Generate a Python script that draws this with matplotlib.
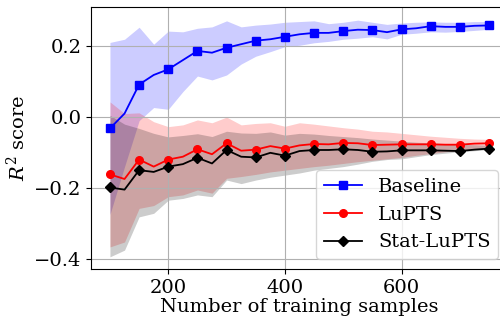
import matplotlib
matplotlib.use("Agg")
import matplotlib.pyplot as plt

plt.rcParams['font.family'] = 'DejaVu Serif'
plt.rcParams['mathtext.fontset'] = 'dejavuserif'
plt.rcParams['font.size'] = 14

# training set sizes
n_samples = [100, 125, 150, 175, 200, 225, 250, 275, 300, 325, 350, 375, 400, 425,
             450, 475, 500, 525, 550, 575, 600, 625, 650, 675, 700, 725, 750]

# Baseline: mean R^2 and band
base_mean = [-0.032, 0.010, 0.092, 0.119, 0.135, 0.161, 0.187, 0.182, 0.196, 0.206,
             0.216, 0.220, 0.227, 0.234, 0.238, 0.238, 0.243, 0.247, 0.246, 0.240,
             0.248, 0.251, 0.257, 0.255, 0.255, 0.258, 0.259]
base_hi = [0.211, 0.220, 0.254, 0.206, 0.243, 0.241, 0.251, 0.255, 0.272, 0.255,
           0.260, 0.263, 0.268, 0.270, 0.272, 0.264, 0.268, 0.274, 0.268, 0.262,
           0.266, 0.268, 0.269, 0.268, 0.268, 0.270, 0.270]
base_lo = [-0.275, -0.140, -0.010, 0.027, 0.022, 0.072, 0.116, 0.105, 0.119, 0.150,
           0.172, 0.185, 0.199, 0.203, 0.210, 0.214, 0.220, 0.223, 0.227, 0.221,
           0.234, 0.237, 0.241, 0.240, 0.242, 0.245, 0.248]

# LuPTS
lupts_mean = [-0.162, -0.175, -0.120, -0.140, -0.120, -0.112, -0.091, -0.105, -0.074, -0.095,
              -0.092, -0.082, -0.089, -0.080, -0.076, -0.077, -0.073, -0.074, -0.079, -0.078,
              -0.077, -0.077, -0.077, -0.078, -0.078, -0.075, -0.074]
lupts_hi = [0.043, 0.010, 0.012, -0.013, -0.027, -0.022, -0.008, -0.016, 0.000, -0.022,
            -0.018, -0.016, -0.026, -0.016, -0.020, -0.025, -0.030, -0.034, -0.040, -0.042,
            -0.046, -0.050, -0.054, -0.057, -0.060, -0.062, -0.063]
lupts_lo = [-0.367, -0.353, -0.258, -0.250, -0.225, -0.220, -0.206, -0.215, -0.173, -0.168,
            -0.162, -0.155, -0.150, -0.145, -0.140, -0.136, -0.131, -0.126, -0.122, -0.118,
            -0.114, -0.108, -0.103, -0.098, -0.094, -0.090, -0.088]

# Stat-LuPTS
stat_mean = [-0.199, -0.205, -0.150, -0.155, -0.140, -0.133, -0.115, -0.131, -0.093, -0.112,
             -0.114, -0.101, -0.109, -0.096, -0.093, -0.093, -0.091, -0.093, -0.098, -0.097,
             -0.094, -0.094, -0.094, -0.095, -0.096, -0.092, -0.089]
stat_hi = [0.005, -0.020, -0.032, -0.046, -0.056, -0.052, -0.047, -0.055, -0.040, -0.045,
           -0.046, -0.042, -0.051, -0.046, -0.048, -0.052, -0.055, -0.058, -0.062, -0.065,
           -0.068, -0.071, -0.073, -0.075, -0.077, -0.078, -0.080]
stat_lo = [-0.395, -0.376, -0.282, -0.272, -0.235, -0.230, -0.220, -0.225, -0.178, -0.188,
           -0.178, -0.170, -0.164, -0.158, -0.150, -0.145, -0.140, -0.133, -0.125, -0.120,
           -0.118, -0.112, -0.106, -0.102, -0.098, -0.095, -0.092]

fig = plt.figure(figsize=(5.0, 3.22), dpi=100)
ax = fig.add_axes([0.182, 0.165, 0.834, 0.812])

ax.fill_between(n_samples, base_lo, base_hi, color='blue', alpha=0.2, linewidth=0)
ax.fill_between(n_samples, lupts_lo, lupts_hi, color='red', alpha=0.2, linewidth=0)
ax.fill_between(n_samples, stat_lo, stat_hi, color='black', alpha=0.2, linewidth=0)

ax.plot(n_samples, base_mean, color='blue', marker='s', markersize=5.5,
        linewidth=1.3, markevery=2, label='Baseline')
ax.plot(n_samples, lupts_mean, color='red', marker='o', markersize=5.5,
        linewidth=1.3, markevery=2, label='LuPTS')
ax.plot(n_samples, stat_mean, color='black', marker='D', markersize=5.5,
        linewidth=1.3, markevery=2, label='Stat-LuPTS')

ax.set_xlim(67.5, 782.5)
ax.set_ylim(-0.429, 0.31)
ax.set_xticks([200, 400, 600])
ax.set_yticks([-0.4, -0.2, 0.0, 0.2])
ax.grid(True)
ax.set_xlabel('Number of training samples', labelpad=1)
ax.set_ylabel('$R^2$ score')
ax.legend(loc='lower right')

fig.savefig('out.png', dpi=100)
